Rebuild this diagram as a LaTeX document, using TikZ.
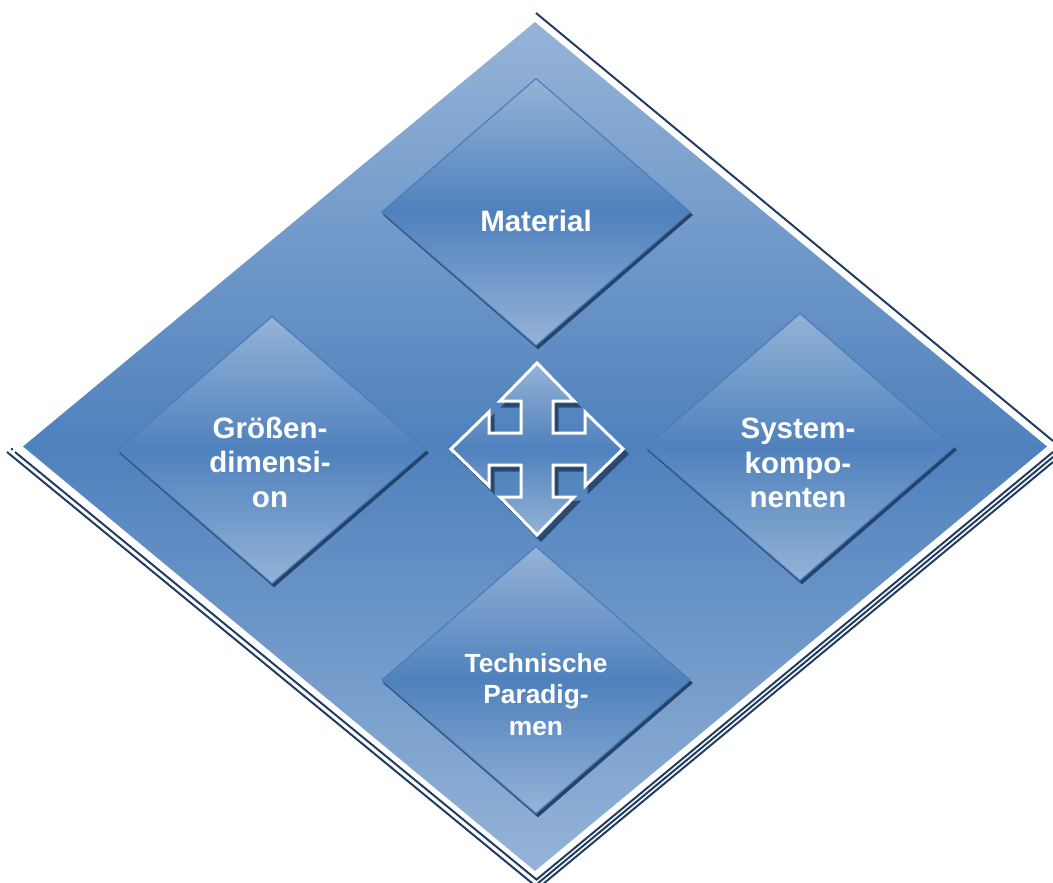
\documentclass[tikz,border=0pt]{standalone}
\usepackage{fontspec}
\setmainfont{Liberation Sans}
\usetikzlibrary{shapes.geometric}
\definecolor{lightb}{HTML}{95B3D7}
\definecolor{darkb}{HTML}{4F81BD}
\definecolor{edgeb}{HTML}{4A7EBB}
\definecolor{navy}{HTML}{213D62}
\definecolor{shadowc}{HTML}{26436B}
\tikzset{
  bigdia/.style={diamond, inner sep=0pt, outer sep=0pt, minimum width=1024pt, minimum height=849pt,
    top color=lightb, bottom color=lightb, middle color=darkb},
  smalldia/.style={diamond, inner sep=0pt, outer sep=0pt, minimum width=308pt, minimum height=267pt,
    top color=lightb, bottom color=lightb, middle color=darkb, draw=edgeb, line width=1.2pt},
  smallshadow/.style={diamond, inner sep=0pt, outer sep=0pt, minimum width=308pt, minimum height=267pt,
    fill=shadowc, draw=shadowc, line width=1.2pt},
  shadline/.style={draw=navy, line width=2pt},
  lbl/.style={text=white, font=\bfseries\fontsize{29.5}{34.5}\selectfont, align=center, inner sep=0pt},
  lblsmall/.style={text=white, font=\bfseries\fontsize{26.3}{31.2}\selectfont, align=center, inner sep=0pt},
  qarrow/.style={top color=lightb, bottom color=lightb, middle color=darkb, draw=white, line width=3pt, line join=miter},
  qshadow/.style={fill=shadowc, draw=shadowc, line width=3pt, line join=miter, opacity=0.85}
}
\begin{document}
\begin{tikzpicture}[x=1pt,y=-1pt]
\clip (0,0) rectangle (1053,883);
\useasboundingbox (0,0) rectangle (1053,883);
% shadow lines of big diamond
\draw[shadline] (536,13) -- (1053,441);
\draw[shadline] (7,452) -- (538,888);
\draw[shadline] (15,452) -- (536.5,879.6) -- (1053,452);
\draw[shadline] (1053,457) -- (537,884);
\draw[shadline] (1053,462) -- (543,884);
\fill[navy] (12,449) circle (1.5pt);
% big diamond
\node[bigdia] (big) at (535,446.5) {};
% small diamonds
\node[smallshadow] (matS) at (538,215) {};
\node[smalldia] (mat) at (536,212) {};
\node[smallshadow] (groS) at (274,453) {};
\node[smalldia] (gro) at (272,450) {};
\node[smallshadow] (sysS) at (802,450) {};
\node[smalldia] (sys) at (800,447) {};
\node[smallshadow] (tecS) at (538,683) {};
\node[smalldia] (tec) at (536,680) {};
% labels
\node[lbl] (tmat) at (536,221) {Material};
\node[lbl] (tgro) at (270,462) {Größen-\\dimensi-\\on};
\node[lbl] (tsys) at (798,463) {System-\\kompo-\\nenten};
\node[lblsmall] (ttec) at (536,694.5) {Technische\\Paradig-\\men};
% central quad arrow: shadow
\path[qshadow, shift={(541,454)}] (0,-86) -- (37,-48) -- (16,-48) -- (16,-16) -- (48,-16) -- (48,-37) -- (86,0)
  -- (48,37) -- (48,16) -- (16,16) -- (16,48) -- (37,48) -- (0,86) -- (-37,48) -- (-16,48) -- (-16,16)
  -- (-48,16) -- (-48,37) -- (-86,0) -- (-48,-37) -- (-48,-16) -- (-16,-16) -- (-16,-48) -- (-37,-48) -- cycle;
% central quad arrow
\path[qarrow, shift={(537,449)}] (0,-86) -- (37,-48) -- (16,-48) -- (16,-16) -- (48,-16) -- (48,-37) -- (86,0)
  -- (48,37) -- (48,16) -- (16,16) -- (16,48) -- (37,48) -- (0,86) -- (-37,48) -- (-16,48) -- (-16,16)
  -- (-48,16) -- (-48,37) -- (-86,0) -- (-48,-37) -- (-48,-16) -- (-16,-16) -- (-16,-48) -- (-37,-48) -- cycle;
\end{tikzpicture}
\end{document}
